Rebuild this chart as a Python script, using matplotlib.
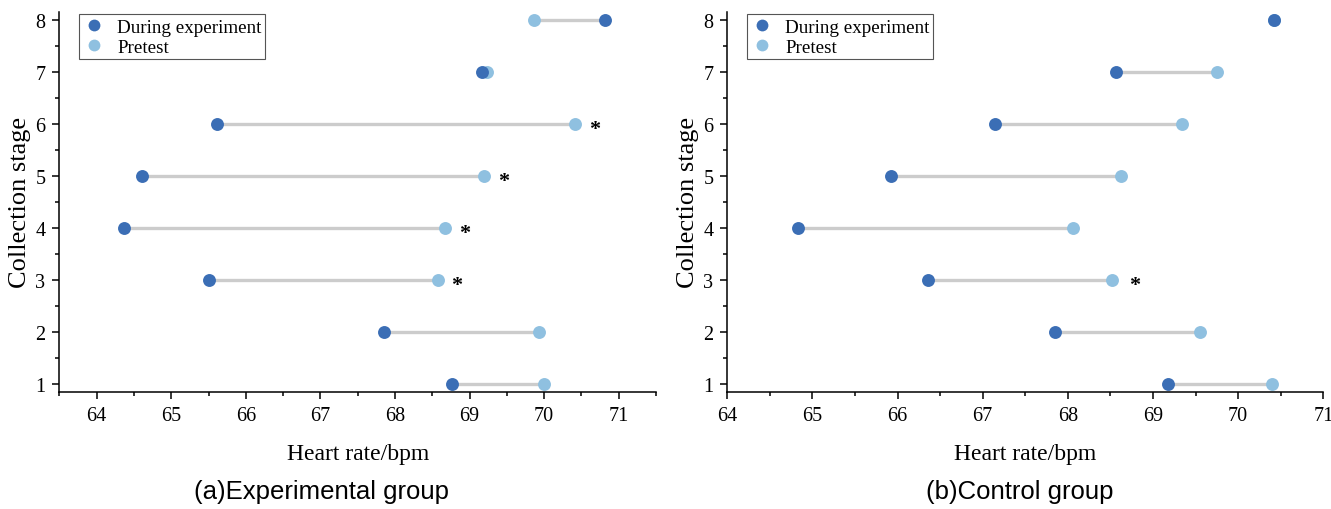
"""Dumbbell plots of heart rate per collection stage, experimental vs control group."""

import matplotlib.pyplot as plt
from matplotlib.lines import Line2D
import numpy as np

stages = [1, 2, 3, 4, 5, 6, 7, 8]

# experimental group
exp_during = [68.76, 67.85, 65.50, 64.37, 64.61, 65.62, 69.17, 70.82]
exp_pretest = [70.00, 69.93, 68.57, 68.67, 69.19, 70.41, 69.24, 69.86]
exp_sig = [3, 4, 5, 6]

# control group
ctl_during = [69.18, 67.85, 66.36, 64.83, 65.92, 67.14, 68.56, 70.42]
ctl_pretest = [70.40, 69.55, 68.52, 68.06, 68.63, 69.34, 69.75, 70.42]
ctl_sig = [3]

dark = "#3b6eb5"
light = "#8fc0e0"
serif = ["Liberation Serif", "DejaVu Serif"]

plt.rcParams["font.family"] = serif
plt.rcParams["axes.linewidth"] = 1.1

fig = plt.figure(figsize=(13.31, 5.10), dpi=100)
ax1 = fig.add_axes([0.0446, 0.230, 0.4483, 0.745])
ax2 = fig.add_axes([0.5464, 0.230, 0.4478, 0.745])


def draw(ax, during, pretest, sig, xlim):
    for s, d, p in zip(stages, during, pretest):
        ax.plot([d, p], [s, s], color="#cccccc", lw=2.4, zorder=1, solid_capstyle="butt")
    ax.plot(pretest, stages, "o", color=light, ms=9.3, mec="none", zorder=2)
    ax.plot(during, stages, "o", color=dark, ms=9.3, mec="none", zorder=3)
    for s in sig:
        ax.text(pretest[s - 1] + 0.26, s - 0.1, "*", fontsize=16, fontweight="bold",
                ha="center", va="center", family=serif)

    ax.set_xlim(*xlim)
    ax.set_ylim(0.85, 8.15)
    ax.set_xticks(np.arange(64, 72, 1))
    ax.set_xticks(np.arange(xlim[0], xlim[1] + 0.01, 0.5), minor=True)
    ax.set_yticks(stages)
    ax.set_yticks(np.arange(1.5, 8.0, 1), minor=True)
    ax.tick_params(which="major", direction="out", length=5, width=1.1, labelsize=14.5, pad=5)
    ax.tick_params(which="minor", direction="out", length=3, width=1.1)
    ax.spines["top"].set_visible(False)
    ax.spines["right"].set_visible(False)
    ax.set_xlabel("Heart rate/bpm", fontsize=17, labelpad=13)
    ax.set_ylabel("Collection stage", fontsize=19, labelpad=3)

    handles = [
        Line2D([], [], ls="none", marker="o", color=dark, ms=8.5, mec="none"),
        Line2D([], [], ls="none", marker="o", color=light, ms=8.5, mec="none"),
    ]
    leg = ax.legend(handles, ["During experiment", "Pretest"], loc="upper left",
                    bbox_to_anchor=(0.03, 0.998), fontsize=13.7, frameon=True, fancybox=False,
                    edgecolor="#555555", framealpha=1, handletextpad=0.6, labelspacing=0.14,
                    borderpad=0.2, handlelength=1.2, borderaxespad=0.1)
    leg.get_frame().set_linewidth(0.8)


draw(ax1, exp_during, exp_pretest, exp_sig, (63.5, 71.5))
draw(ax2, ctl_during, ctl_pretest, ctl_sig, (64, 71))

fig.text(321 / 1331, 1 - 492 / 510, "(a)Experimental group", fontsize=18.5,
         family=["Liberation Sans", "DejaVu Sans"], ha="center", va="center")
fig.text(1020 / 1331, 1 - 492 / 510, "(b)Control group", fontsize=18.5,
         family=["Liberation Sans", "DejaVu Sans"], ha="center", va="center")

plt.savefig("out.png", dpi=100)
